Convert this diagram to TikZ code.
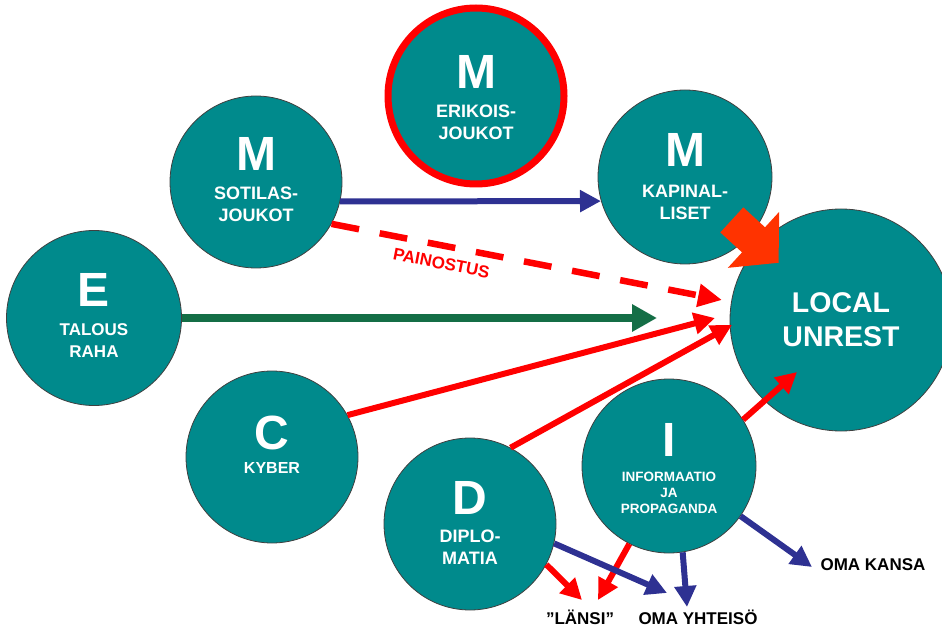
\documentclass[tikz,border=0pt]{standalone}
\usepackage{fontspec}
\setmainfont{Liberation Sans}
\usetikzlibrary{arrows.meta,calc}
\definecolor{unitteal}{RGB}{0,138,140}
\definecolor{arrowred}{RGB}{255,0,0}
\definecolor{bigred}{RGB}{255,51,0}
\definecolor{arrowblue}{RGB}{46,49,146}
\definecolor{arrowgreen}{RGB}{20,110,70}
\tikzset{unitcircle/.style={circle,draw=black!75,line width=0.8pt,fill=unitteal,minimum size=174pt,inner sep=0pt},
         lettertext/.style={text=white,font=\fontsize{48}{48}\selectfont\bfseries,inner sep=0pt},
         captiontext/.style={text=white,align=center,font=\fontsize{18}{22}\selectfont\bfseries,inner sep=0pt},
         endlabel/.style={font=\fontsize{17}{20}\selectfont\bfseries,inner sep=0pt},
         redarrow/.style={arrowred,line width=6pt,-{Triangle[length=21pt,width=21pt]}},
         bluearrow/.style={arrowblue,line width=6pt,-{Triangle[length=21pt,width=21pt]}},
        }
\begin{document}
\begin{tikzpicture}[x=1pt,y=-1pt]
        \useasboundingbox(0,0)rectangle(942,628);
        \node[unitcircle,draw=arrowred,line width=7pt,minimum size=176pt,
              label={[lettertext,yshift=24pt]center:M},
              label={[captiontext,yshift=-26pt]center:{ERIKOIS-\\JOUKOT}}](eri)at(476,96){};
        \node[unitcircle,minimum size=172pt,
              label={[lettertext,yshift=28pt]center:M},
              label={[captiontext,yshift=-22pt]center:{SOTILAS-\\JOUKOT}}](sot)at(256,182){};
        \node[unitcircle,
              label={[lettertext,yshift=27pt]center:M},
              label={[captiontext,yshift=-25pt]center:{KAPINAL-\\LISET}}](kap)at(685,177){};
        \node[unitcircle,minimum size=175pt,
              label={[lettertext,yshift=28pt]center:E},
              label={[captiontext,font=\fontsize{17}{22}\selectfont\bfseries,yshift=-23pt]center:{TALOUS\\RAHA}}](eco)at(94,318){};
        \node[unitcircle,minimum size=222pt,text=white,align=center,
              font=\fontsize{28.5}{34}\selectfont\bfseries](loc)at(841,320){LOCAL\\UNREST};
        \node[unitcircle,minimum size=172pt,
              label={[lettertext,yshift=24pt]center:C},
              label={[captiontext,font=\fontsize{16}{20}\selectfont\bfseries,yshift=-11pt]center:KYBER}](cyb)at(272,457){};
        \node[unitcircle,minimum size=172pt,
              label={[lettertext,yshift=26pt]center:D},
              label={[captiontext,yshift=-23.5pt]center:{DIPLO-\\MATIA}}](dip)at(470,524){};
        \node[unitcircle,
              label={[lettertext,yshift=26pt]center:I},
              label={[captiontext,font=\fontsize{13.5}{16}\selectfont\bfseries,yshift=-27pt]center:{INFORMAATIO\\JA\\PROPAGANDA}}](inf)at(669,466){};

        \node[endlabel](lansi)at(580,617){”LÄNSI”};
        \node[endlabel](yht)at(698,617){OMA YHTEISÖ};
        \node[endlabel](kansa)at(873,565){OMA KANSA};

        % free arrow ends
        \coordinate(pTip)at(722,300);
        \coordinate(gTip)at(657,318);
        \coordinate(cTip)at(715,318);
        \coordinate(dTip)at(732,325);
        \coordinate(iTip)at(797,372);
        \coordinate(l1)at(582,600);
        \coordinate(l2)at(598,600);
        \coordinate(y1)at(667,593);
        \coordinate(y2)at(687,607);
        \coordinate(k1)at(812,567);

        \draw[bluearrow](sot.-13)--(kap.-164);
        \draw[redarrow,line width=6.5pt,dash pattern=on 28pt off 21pt,-{Triangle[length=24pt,width=22pt]}](sot.-29)--
              node[pos=0.29,below=5pt,sloped,text=arrowred,font=\fontsize{17}{20}\selectfont\bfseries](press){PAINOSTUS}(pTip);
        \draw[arrowgreen,line width=8pt,-{Triangle[length=25pt,width=26pt]}](eco.east)--(gTip);
        \draw[redarrow](cyb.29)--(cTip);
        \draw[redarrow](dip.62)--(dTip);
        \draw[redarrow](inf.32)--(iTip);
        \draw[bigred,line width=34pt,-{Triangle[length=34pt,width=74pt]}]($(kap)!0.3!(loc)$)--($(kap)!0.6!(loc)$);

        \draw[redarrow](dip.-28)--(l1);
        \draw[redarrow](inf.-117)--(l2);
        \draw[bluearrow](dip.-13)--(y1);
        \draw[bluearrow](inf.-81)--(y2);
        \draw[bluearrow](inf.-35)--(k1);
\end{tikzpicture}
\end{document}
